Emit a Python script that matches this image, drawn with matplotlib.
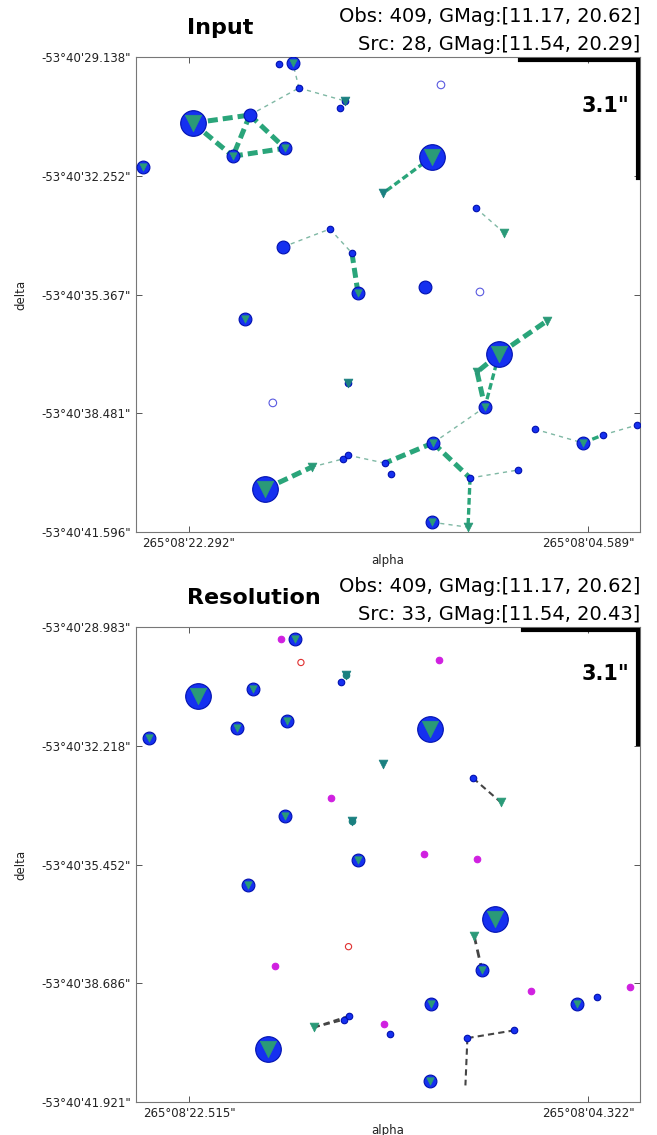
import matplotlib
matplotlib.use('Agg')
import numpy as np
import matplotlib.pyplot as plt

# sky positions: alpha = 265d08'xx.xxx", delta = -53d40'yy.yyy"
pos_alpha = [18.30, 17.68, 17.41, 15.37, 15.59, 22.11, 19.59, 20.34, 18.03, 24.33,
             16.04, 18.12, 11.11, 11.51, 9.56, 15.06, 14.79, 19.81, 15.24, 18.57,
             18.92, 15.46, 15.24, 11.82, 9.38, 8.54, 9.16, 11.46, 13.60, 13.33,
             9.82, 7.69, 6.94, 4.81, 3.92, 2.41, 11.51,
             13.68, 8.31, 16.83, 6.41, 9.51, 9.91]
pos_delta = [29.32, 29.30, 29.95, 30.29, 30.48, 30.87, 30.66, 31.74, 31.53, 32.02,
             33.65, 34.12, 29.87, 31.76, 33.10, 34.28, 35.33, 36.01, 37.69, 38.21,
             40.47, 39.68, 39.58, 35.17, 35.30, 36.93, 38.32, 39.26, 39.79, 40.08,
             40.18, 39.97, 38.90, 39.26, 39.05, 38.79, 41.34,
             32.71, 33.75, 39.89, 36.06, 37.40, 41.47]

# observations: position index and size class
obs_idx = list(range(37))
obs_cls = ['S', 'M', 'S', 'S', 'S', 'L', 'M', 'M', 'M', 'M',
           'S', 'M', 'O', 'L', 'S', 'S', 'M', 'M', 'S', 'O',
           'L', 'S', 'S', 'M', 'O', 'L', 'M', 'M', 'S', 'S',
           'S', 'S', 'S', 'M', 'S', 'S', 'M']

# colours / sizes of the observations in the resolution panel
obs_col_bot = {0: 'm', 12: 'm', 10: 'm', 19: 'm', 23: 'm', 24: 'm', 32: 'm',
               35: 'm', 28: 'm', 2: 'r', 18: 'r', 3: 't', 15: 't'}
obs_cls_bot = {12: 'S', 19: 'S', 23: 'S', 24: 'S'}

# sources (triangles)
src_top_idx = [5, 13, 20, 25, 7, 8, 9, 16, 17, 26, 27, 33, 36, 1,
               37, 38, 39, 40, 41, 42, 18, 3]
src_top_cls = ['L', 'L', 'L', 'L', 'M', 'M', 'M', 'M', 'M', 'M', 'M', 'M', 'M', 'M',
               'S', 'S', 'S', 'S', 'S', 'S', 'S', 'S']
src_bot_idx = [5, 13, 20, 25, 7, 8, 9, 16, 17, 26, 27, 33, 36, 1, 6, 11,
               37, 38, 39, 41, 15, 3]
src_bot_cls = ['L', 'L', 'L', 'L', 'M', 'M', 'M', 'M', 'M', 'M', 'M', 'M', 'M', 'M',
               'M', 'M', 'S', 'S', 'S', 'S', 'S', 'S']

# links (i, j, weight)
links_top = [(5, 6, 3), (5, 7, 3), (6, 7, 3), (6, 8, 3), (7, 8, 3),
             (6, 2, 1), (2, 3, 1), (2, 1, 1), (13, 37, 2), (14, 38, 1),
             (11, 10, 1), (10, 15, 1), (15, 16, 3), (20, 39, 3), (39, 21, 1),
             (22, 28, 1), (25, 40, 3), (25, 41, 3), (41, 26, 3), (25, 26, 2),
             (26, 27, 1), (27, 28, 3), (27, 30, 3), (30, 31, 1), (30, 42, 2),
             (36, 42, 1), (32, 33, 1), (33, 34, 2), (34, 35, 1)]
links_bot = [(14, 38, 1), (39, 21, 1), (39, 22, 1), (41, 26, 2), (30, 31, 1), (30, 42, 1)]

panels = [
    dict(title='Input', obs='Obs: 409, GMag:[11.17, 20.62]', src='Src: 28, GMag:[11.54, 20.29]',
         xlim=(24.64, 2.28), ylim=(41.596, 29.138), xticks=[22.292, 4.589],
         rect=(136, 57, 640, 532), links=links_top, src_idx=src_top_idx, src_cls=src_top_cls,
         bottom=False),
    dict(title='Resolution', obs='Obs: 409, GMag:[11.17, 20.62]', src='Src: 33, GMag:[11.54, 20.43]',
         xlim=(24.93, 1.95), ylim=(41.921, 28.983), xticks=[22.515, 4.322],
         rect=(136, 627, 640, 1102), links=links_bot, src_idx=src_bot_idx, src_cls=src_bot_cls,
         bottom=True),
]

W, H = 657, 1135
fig = plt.figure(figsize=(W / 100, H / 100), dpi=100)

obs_s = {'L': 340, 'M': 85, 'S': 22, 'O': 30}
src_s = {'L': 140, 'M': 28, 'S': 40}
cmap = {'m': '#d020e0', 'r': '#e03030', 't': '#1a8080'}
blue = '#1530f0'
green = '#2a9a78'

for p in panels:
    l, t, r, b = p['rect']
    ax = fig.add_axes([l / W, 1 - b / H, (r - l) / W, (b - t) / H])
    ax.set_xlim(*p['xlim'])
    ax.set_ylim(*p['ylim'])

    # links
    for i, j, w in p['links']:
        xs = [pos_alpha[i], pos_alpha[j]]
        ys = [pos_delta[i], pos_delta[j]]
        if p['bottom']:
            ax.plot(xs, ys, ls='--', color='#444444', lw=1.0 + 0.5 * w, dashes=(3, 2), zorder=2)
        elif w == 1:
            ax.plot(xs, ys, ls='--', color='#7fb8a4', lw=1.0, dashes=(3, 3), zorder=2)
        else:
            ax.plot(xs, ys, ls='--', color='#2aa57a', lw=1.2 * w, dashes=(2, 1), zorder=2)

    # observations
    for k, c in zip(obs_idx, obs_cls):
        x, y = pos_alpha[k], pos_delta[k]
        col = blue
        if p['bottom']:
            c = obs_cls_bot.get(k, c)
            if k in obs_col_bot:
                col = cmap[obs_col_bot[k]]
        if p['bottom'] and obs_col_bot.get(k) == 'r':
            ax.scatter([x], [y], s=20, facecolors='none', edgecolors=col, lw=0.8, zorder=3)
        elif c == 'O':
            ax.scatter([x], [y], s=obs_s[c], facecolors='none', edgecolors='#5a5ae0', lw=0.8, zorder=3)
        else:
            ec = '#0010b0' if col == blue else col
            ax.scatter([x], [y], s=obs_s[c], color=col, edgecolors=ec, lw=0.8, zorder=3)

    # sources
    for k, c in zip(p['src_idx'], p['src_cls']):
        col = '#1a8080' if (c == 'S' and k in (3, 15, 18, 37)) else green
        ax.scatter([pos_alpha[k]], [pos_delta[k]], marker='v', s=src_s[c], color=col,
                   edgecolors=col, lw=0.5, zorder=4)

    # axes styling
    yt = np.linspace(p['ylim'][1], p['ylim'][0], 5)
    ax.set_yticks(yt)
    ax.set_yticklabels(["-53\u00b040'%06.3f\"" % v for v in yt], fontsize=8.5)
    ax.set_xticks(p['xticks'])
    ax.set_xticklabels(["265\u00b008'%06.3f\"" % v for v in p['xticks']], fontsize=8.5)
    ax.tick_params(direction='in', top=True, right=True, length=4, width=0.7, colors='#555555',
                   labelcolor='#222222')
    for sp in ax.spines.values():
        sp.set_color('#777777')
        sp.set_linewidth(0.8)
    ax.set_xlabel('alpha', fontsize=8.5, color='#222222', labelpad=3)
    ax.set_ylabel('delta', fontsize=8.5, color='#222222', labelpad=10)

    # scale bar
    sc = 3.1
    ca = p['xlim'][1] + 0.1
    cd = p['ylim'][1] + 0.08
    ax.plot([ca + sc / np.cos(np.radians(53.67)), ca, ca], [cd, cd, cd + sc],
            color='black', lw=3, solid_joinstyle='miter', zorder=5, clip_on=False)
    ax.annotate('3.1"', xy=(ca, cd + 1.2), xytext=(-6, 0), textcoords='offset points',
                ha='right', va='center', fontsize=15, fontweight='bold')

    # titles
    fig.text(187 / W, 1 - (t - 29) / H, p['title'], fontsize=16, fontweight='bold',
             ha='left', va='center')
    fig.text(640 / W, 1 - (t - 40) / H, p['obs'], fontsize=14, ha='right', va='center')
    fig.text(640 / W, 1 - (t - 13) / H, p['src'], fontsize=14, ha='right', va='center')

fig.savefig('out.png', dpi=100)
